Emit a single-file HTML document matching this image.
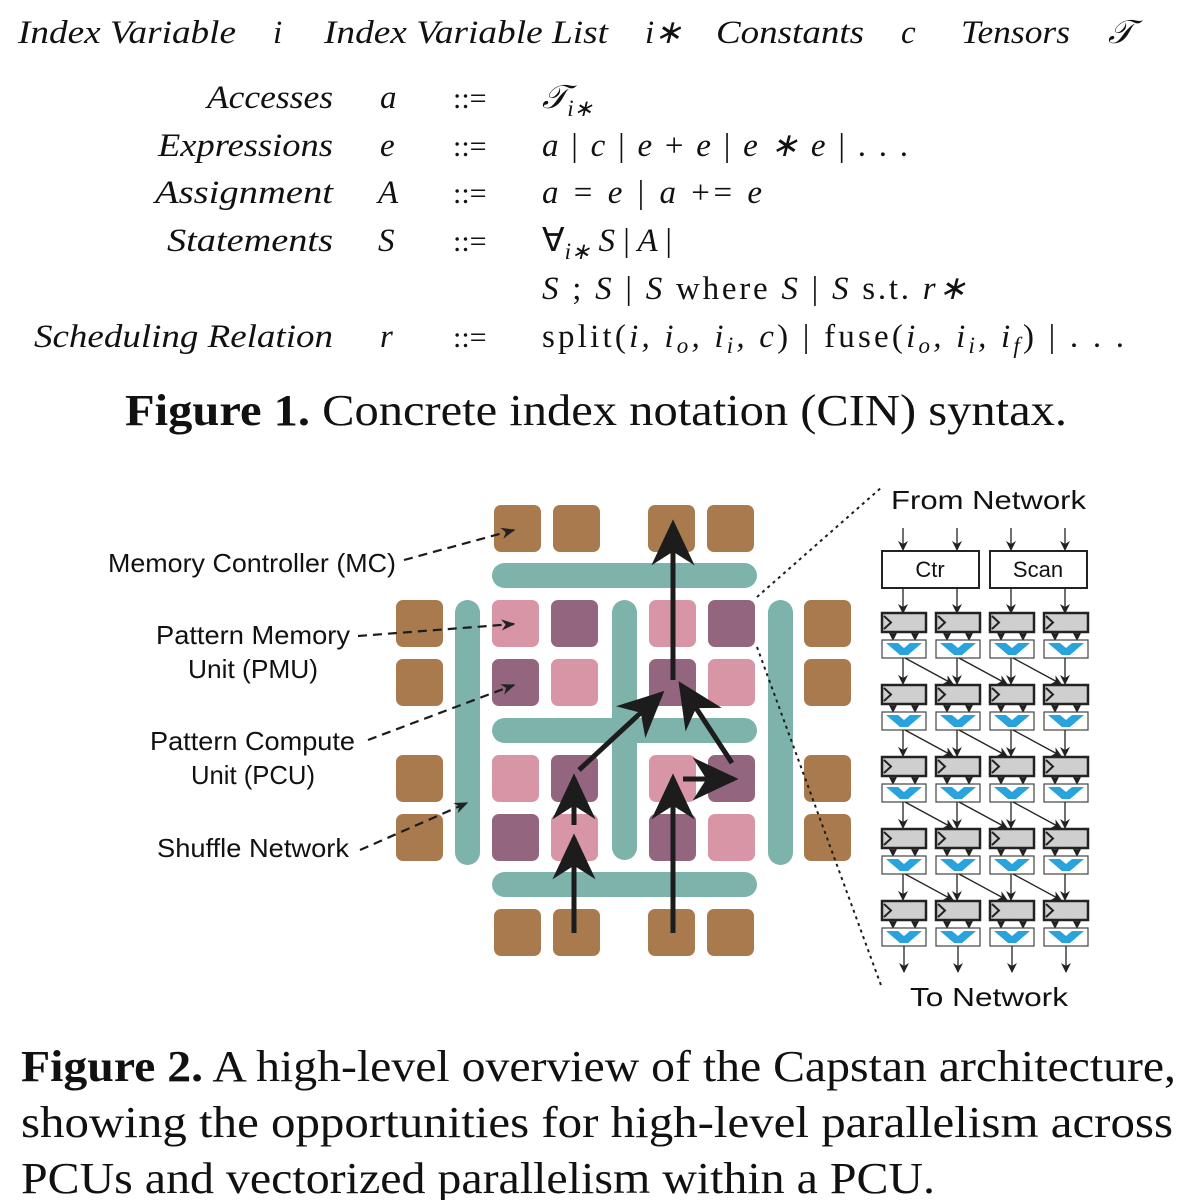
<!DOCTYPE html>
<html><head><meta charset="utf-8"><style>
html,body{margin:0;padding:0;background:#fff;width:1192px;height:1200px;overflow:hidden}
svg{display:block}
.it{font-family:"Liberation Serif",serif;font-style:italic}
.rm{font-family:"Liberation Serif",serif}
.sn{font-family:"Liberation Sans",sans-serif}
</style></head><body>
<svg width="1192" height="1200" viewBox="0 0 1192 1200" xmlns="http://www.w3.org/2000/svg">
<defs>
<marker id="ah" viewBox="0 0 10 10" refX="9" refY="5" markerWidth="10" markerHeight="10" markerUnits="userSpaceOnUse" orient="auto"><path d="M0,0 L10,5 L0,10 L3,5 z" fill="#222"/></marker>
<marker id="ad" viewBox="0 0 10 10" refX="9" refY="5" markerWidth="14" markerHeight="14" markerUnits="userSpaceOnUse" orient="auto"><path d="M0,1 L10,5 L0,9 L3,5 z" fill="#222"/></marker>
<marker id="big" viewBox="0 0 10 10" refX="9" refY="5" markerWidth="46" markerHeight="46" markerUnits="userSpaceOnUse" orient="auto"><path d="M0,0.3 L10,5 L0,9.7 L3,5 z" fill="#1c1c1c"/></marker>
<g id="cell">
<rect x="0" y="0" width="44" height="19" fill="#cfcfcf" stroke="#222" stroke-width="2.5"/>
<polyline points="2,3 9,9.5 2,16" fill="none" stroke="#222" stroke-width="2"/>
<line x1="11" y1="19" x2="11" y2="27" stroke="#222" stroke-width="1" marker-end="url(#ah)"/>
<line x1="33" y1="19" x2="33" y2="27" stroke="#222" stroke-width="1" marker-end="url(#ah)"/>
<rect x="0" y="27" width="44" height="18" fill="#fff" stroke="#444" stroke-width="1.2"/>
<polygon points="4,30 16,30 22,35 28,30 40,30 26,42 18,42" fill="#29a3dc"/>
</g>
<g id="vdown"><line x1="21" y1="45" x2="21" y2="71" stroke="#222" stroke-width="1.3" marker-end="url(#ah)"/></g>
<g id="diag"><line x1="23" y1="45" x2="71" y2="71" stroke="#222" stroke-width="1.3" marker-end="url(#ah)"/></g>
</defs>

<!-- Figure 1 -->
<g class="it" font-size="33" fill="#111">
<text x="18" y="43" textLength="218" lengthAdjust="spacingAndGlyphs">Index Variable</text>
<text x="273" y="43">i</text>
<text x="324" y="43" textLength="284" lengthAdjust="spacingAndGlyphs">Index Variable List</text>
<text x="645" y="43">i∗</text>
<text x="716" y="43" textLength="148" lengthAdjust="spacingAndGlyphs">Constants</text>
<text x="901" y="43">c</text>
<text x="961" y="43" textLength="109" lengthAdjust="spacingAndGlyphs">Tensors</text>
<text x="1108" y="43">𝒯</text>
</g>
<g class="it" font-size="33" fill="#111">
<text x="207" y="108" textLength="126" lengthAdjust="spacingAndGlyphs">Accesses</text>
<text x="158" y="156" textLength="175" lengthAdjust="spacingAndGlyphs">Expressions</text>
<text x="155" y="203" textLength="178" lengthAdjust="spacingAndGlyphs">Assignment</text>
<text x="167" y="251" textLength="166" lengthAdjust="spacingAndGlyphs">Statements</text>
<text x="34" y="347" textLength="299" lengthAdjust="spacingAndGlyphs">Scheduling Relation</text>
</g>
<g class="it" font-size="33" fill="#111">
<text x="380" y="108">a</text><text x="380" y="156">e</text><text x="378" y="203">A</text><text x="378" y="251">S</text><text x="380" y="347">r</text>
</g>
<g class="rm" font-size="30" fill="#111">
<text x="453" y="108">::=</text><text x="453" y="156">::=</text><text x="453" y="203">::=</text><text x="453" y="251">::=</text><text x="453" y="347">::=</text>
</g>
<g class="it" font-size="33" fill="#111">
<text x="542" y="108">𝒯<tspan font-size="23" dy="8">i∗</tspan></text>
<text x="542" y="156" textLength="366" lengthAdjust="spacing">a <tspan font-style="normal">|</tspan> c <tspan font-style="normal">|</tspan> e <tspan font-style="normal">+</tspan> e <tspan font-style="normal">|</tspan> e ∗ e <tspan font-style="normal">| . . .</tspan></text>
<text x="542" y="203" textLength="220" lengthAdjust="spacing">a <tspan font-style="normal">=</tspan> e <tspan font-style="normal">|</tspan> a <tspan font-style="normal">+=</tspan> e</text>
<text x="542" y="251"><tspan font-style="normal">∀</tspan><tspan font-size="23" dy="8">i∗</tspan><tspan dy="-8"> S   </tspan><tspan font-style="normal">|</tspan>   A   <tspan font-style="normal">|</tspan></text>
<text x="542" y="299" textLength="424" lengthAdjust="spacing">S <tspan font-style="normal">;</tspan> S <tspan font-style="normal">|</tspan> S <tspan font-style="normal">where</tspan> S <tspan font-style="normal">|</tspan> S <tspan font-style="normal">s.t.</tspan> r∗</text>
<text x="542" y="347" textLength="582" lengthAdjust="spacing"><tspan font-style="normal">split(</tspan>i, i<tspan font-size="23" dy="6">o</tspan><tspan dy="-6">, i</tspan><tspan font-size="23" dy="6">i</tspan><tspan dy="-6">, c</tspan><tspan font-style="normal">)  |  fuse(</tspan>i<tspan font-size="23" dy="6">o</tspan><tspan dy="-6">, i</tspan><tspan font-size="23" dy="6">i</tspan><tspan dy="-6">, i</tspan><tspan font-size="23" dy="6">f</tspan><tspan dy="-6" font-style="normal">) | . . .</tspan></text>
</g>
<text class="rm" x="125" y="425" font-size="44" fill="#111" textLength="942" lengthAdjust="spacingAndGlyphs"><tspan font-weight="bold">Figure 1.</tspan> Concrete index notation (CIN) syntax.</text>

<!-- Grid -->
<g fill="#a87a4e">
<rect x="494" y="505" width="47" height="47" rx="7"/><rect x="553" y="505" width="47" height="47" rx="7"/>
<rect x="648" y="505" width="47" height="47" rx="7"/><rect x="707" y="505" width="47" height="47" rx="7"/>
<rect x="494" y="909" width="47" height="47" rx="7"/><rect x="553" y="909" width="47" height="47" rx="7"/>
<rect x="648" y="909" width="47" height="47" rx="7"/><rect x="707" y="909" width="47" height="47" rx="7"/>
<rect x="396" y="600" width="47" height="47" rx="7"/><rect x="396" y="659" width="47" height="47" rx="7"/>
<rect x="396" y="755" width="47" height="47" rx="7"/><rect x="396" y="814" width="47" height="47" rx="7"/>
<rect x="804" y="600" width="47" height="47" rx="7"/><rect x="804" y="659" width="47" height="47" rx="7"/>
<rect x="804" y="755" width="47" height="47" rx="7"/><rect x="804" y="814" width="47" height="47" rx="7"/>
</g>
<g fill="#7db3ab">
<rect x="492" y="563" width="265" height="25" rx="12.5"/>
<rect x="492" y="718" width="265" height="25" rx="12.5"/>
<rect x="492" y="872" width="265" height="25" rx="12.5"/>
<rect x="455" y="600" width="25" height="265" rx="12.5"/>
<rect x="768" y="600" width="25" height="265" rx="12.5"/>
<rect x="612" y="600" width="25" height="260" rx="12.5"/>
</g>
<g>
<rect x="492" y="600" width="47" height="47" rx="7" fill="#d895a6"/><rect x="551" y="600" width="47" height="47" rx="7" fill="#93657f"/>
<rect x="649" y="600" width="47" height="47" rx="7" fill="#d895a6"/><rect x="708" y="600" width="47" height="47" rx="7" fill="#93657f"/>
<rect x="492" y="659" width="47" height="47" rx="7" fill="#93657f"/><rect x="551" y="659" width="47" height="47" rx="7" fill="#d895a6"/>
<rect x="649" y="659" width="47" height="47" rx="7" fill="#93657f"/><rect x="708" y="659" width="47" height="47" rx="7" fill="#d895a6"/>
<rect x="492" y="755" width="47" height="47" rx="7" fill="#d895a6"/><rect x="551" y="755" width="47" height="47" rx="7" fill="#93657f"/>
<rect x="649" y="755" width="47" height="47" rx="7" fill="#d895a6"/><rect x="708" y="755" width="47" height="47" rx="7" fill="#93657f"/>
<rect x="492" y="814" width="47" height="47" rx="7" fill="#93657f"/><rect x="551" y="814" width="47" height="47" rx="7" fill="#d895a6"/>
<rect x="649" y="814" width="47" height="47" rx="7" fill="#93657f"/><rect x="708" y="814" width="47" height="47" rx="7" fill="#d895a6"/>
</g>
<g stroke="#1c1c1c" stroke-width="5" fill="none">
<line x1="574" y1="933" x2="574" y2="838" marker-end="url(#big)"/>
<line x1="574" y1="825" x2="574" y2="778" marker-end="url(#big)"/>
<line x1="579" y1="770" x2="661" y2="694" marker-end="url(#big)"/>
<line x1="673" y1="933" x2="673" y2="778" marker-end="url(#big)"/>
<line x1="673" y1="680" x2="673" y2="524" marker-end="url(#big)"/>
<line x1="732" y1="763" x2="681" y2="685" marker-end="url(#big)"/>
<line x1="683" y1="779" x2="734" y2="779" marker-end="url(#big)"/>
</g>
<!-- labels -->
<g class="sn" font-size="26" fill="#111">
<text x="108" y="572" textLength="288" lengthAdjust="spacingAndGlyphs">Memory Controller (MC)</text>
<text x="156" y="644" textLength="194" lengthAdjust="spacingAndGlyphs">Pattern Memory</text>
<text x="188" y="678" textLength="130" lengthAdjust="spacingAndGlyphs">Unit (PMU)</text>
<text x="150" y="750" textLength="205" lengthAdjust="spacingAndGlyphs">Pattern Compute</text>
<text x="191" y="784" textLength="124" lengthAdjust="spacingAndGlyphs">Unit (PCU)</text>
<text x="157" y="857" textLength="192" lengthAdjust="spacingAndGlyphs">Shuffle Network</text>
<text x="891" y="509" textLength="195" lengthAdjust="spacingAndGlyphs">From Network</text>
<text x="910" y="1006" textLength="158" lengthAdjust="spacingAndGlyphs">To Network</text>
</g>
<g stroke="#1c1c1c" stroke-width="2.2" stroke-dasharray="9,6" fill="none">
<line x1="404" y1="560" x2="514" y2="530" marker-end="url(#ad)"/>
<line x1="358" y1="636" x2="514" y2="624" marker-end="url(#ad)"/>
<line x1="368" y1="740" x2="514" y2="685" marker-end="url(#ad)"/>
<line x1="360" y1="850" x2="467" y2="803" marker-end="url(#ad)"/>
</g>
<g stroke="#1c1c1c" stroke-width="2" stroke-dasharray="3,4" fill="none">
<line x1="757" y1="597" x2="882" y2="487"/>
<line x1="757" y1="647" x2="882" y2="988"/>
</g>

<!-- PCU detail -->
<g stroke="#222" stroke-width="1.3">
<line x1="903" y1="528" x2="903" y2="550" marker-end="url(#ah)"/>
<line x1="957" y1="528" x2="957" y2="550" marker-end="url(#ah)"/>
<line x1="1011" y1="528" x2="1011" y2="550" marker-end="url(#ah)"/>
<line x1="1065" y1="528" x2="1065" y2="550" marker-end="url(#ah)"/>
<line x1="903" y1="588" x2="903" y2="613" marker-end="url(#ah)"/>
<line x1="957" y1="588" x2="957" y2="613" marker-end="url(#ah)"/>
<line x1="1011" y1="588" x2="1011" y2="613" marker-end="url(#ah)"/>
<line x1="1065" y1="588" x2="1065" y2="613" marker-end="url(#ah)"/>
</g>
<rect x="882" y="551" width="97" height="37" fill="#fff" stroke="#222" stroke-width="2"/>
<rect x="990" y="551" width="97" height="37" fill="#fff" stroke="#222" stroke-width="2"/>
<text class="sn" x="930" y="577" font-size="22" text-anchor="middle" fill="#111">Ctr</text>
<text class="sn" x="1038" y="577" font-size="22" text-anchor="middle" fill="#111">Scan</text>

<g transform="translate(882,613)"><use href="#cell"/><use href="#vdown"/><use href="#diag"/></g>
<g transform="translate(936,613)"><use href="#cell"/><use href="#vdown"/><use href="#diag"/></g>
<g transform="translate(990,613)"><use href="#cell"/><use href="#vdown"/><use href="#diag"/></g>
<g transform="translate(1044,613)"><use href="#cell"/><use href="#vdown"/></g>
<g transform="translate(882,685)"><use href="#cell"/><use href="#vdown"/><use href="#diag"/></g>
<g transform="translate(936,685)"><use href="#cell"/><use href="#vdown"/><use href="#diag"/></g>
<g transform="translate(990,685)"><use href="#cell"/><use href="#vdown"/><use href="#diag"/></g>
<g transform="translate(1044,685)"><use href="#cell"/><use href="#vdown"/></g>
<g transform="translate(882,757)"><use href="#cell"/><use href="#vdown"/><use href="#diag"/></g>
<g transform="translate(936,757)"><use href="#cell"/><use href="#vdown"/><use href="#diag"/></g>
<g transform="translate(990,757)"><use href="#cell"/><use href="#vdown"/><use href="#diag"/></g>
<g transform="translate(1044,757)"><use href="#cell"/><use href="#vdown"/></g>
<g transform="translate(882,829)"><use href="#cell"/><use href="#vdown"/><use href="#diag"/></g>
<g transform="translate(936,829)"><use href="#cell"/><use href="#vdown"/><use href="#diag"/></g>
<g transform="translate(990,829)"><use href="#cell"/><use href="#vdown"/><use href="#diag"/></g>
<g transform="translate(1044,829)"><use href="#cell"/><use href="#vdown"/></g>
<g transform="translate(882,901)"><use href="#cell"/></g>
<g transform="translate(936,901)"><use href="#cell"/></g>
<g transform="translate(990,901)"><use href="#cell"/></g>
<g transform="translate(1044,901)"><use href="#cell"/></g>
<g stroke="#222" stroke-width="1.3">
<line x1="904" y1="946" x2="904" y2="972" marker-end="url(#ah)"/>
<line x1="958" y1="946" x2="958" y2="972" marker-end="url(#ah)"/>
<line x1="1012" y1="946" x2="1012" y2="972" marker-end="url(#ah)"/>
<line x1="1066" y1="946" x2="1066" y2="972" marker-end="url(#ah)"/>
</g>

<!-- Figure 2 caption -->
<g class="rm" font-size="44" fill="#111">
<text x="21" y="1081" textLength="1155" lengthAdjust="spacingAndGlyphs"><tspan font-weight="bold">Figure 2.</tspan> A high-level overview of the Capstan architecture,</text>
<text x="21" y="1137" textLength="1152" lengthAdjust="spacingAndGlyphs">showing the opportunities for high-level parallelism across</text>
<text x="21" y="1193" textLength="914" lengthAdjust="spacingAndGlyphs">PCUs and vectorized parallelism within a PCU.</text>
</g>
</svg>
</body></html>
